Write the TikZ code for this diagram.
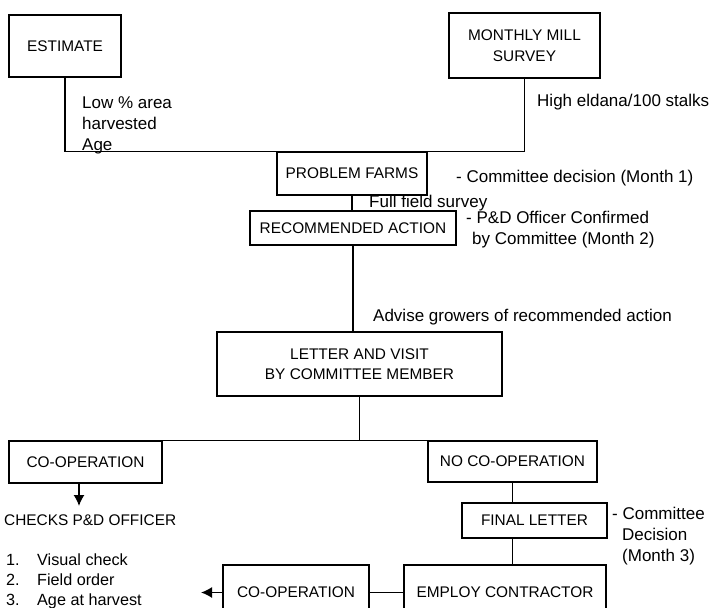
\documentclass[tikz,border=0pt]{standalone}
\usepackage{fontspec}
\setmainfont{Liberation Sans}
\usetikzlibrary{arrows.meta}
\begin{document}
\begin{tikzpicture}[x=1pt,y=-1pt,
  font=\fontsize{17}{20}\selectfont,
  box/.style={draw, line width=1.5pt, inner sep=2pt, align=center, font=\fontsize{15.4}{20.5}\selectfont},
  conn/.style={line width=1.5pt},
  tipconn/.style={line width=1.5pt, -{Latex[length=11pt,width=11pt]}},
  lbl/.style={inner sep=0pt, align=left}]
\useasboundingbox (0,0) rectangle (710,608);
\clip (0,0) rectangle (710,608);
% boxes
\node[box, minimum width=112pt, minimum height=62pt] (est) at (65,46) {ESTIMATE};
\node[box, minimum width=151pt, minimum height=65pt] (mms) at (524.5,45.5) {MONTHLY MILL\\SURVEY};
\node[box, minimum width=150pt, minimum height=43pt] (pf) at (352,173.5) {PROBLEM FARMS};
\node[box, minimum width=206pt, minimum height=34pt] (ra) at (353,228) {RECOMMENDED ACTION};
\node[box, minimum width=285pt, minimum height=64pt] (lv) at (359.5,364) {\raisebox{-3pt}{\parbox{250pt}{\centering LETTER AND VISIT\\BY COMMITTEE MEMBER}}};
\node[box, minimum width=153pt, minimum height=42pt] (coop) at (85.5,462) {CO-OPERATION};
\node[box, minimum width=169pt, minimum height=41pt] (nocoop) at (512.5,461.5) {NO CO-OPERATION};
\node[box, minimum width=145pt, minimum height=35pt] (fl) at (534.5,520.5) {FINAL LETTER};
\node[box, minimum width=202pt, minimum height=55pt] (emp) at (505,592.5) {EMPLOY CONTRACTOR};
\node[box, minimum width=146pt, minimum height=55pt] (coop2) at (296,592.5) {CO-OPERATION};
% coordinates
\coordinate (hl) at (est.south |- pf.north);
\coordinate (hr) at (mms.south |- pf.north);
\coordinate (chk) at (79,506);
\coordinate (co2tip) at (201,590);
% connectors
\draw[conn] (est.south) -- (hl) -- (hr) -- (mms.south);
\draw[conn] (pf.south) -- (pf.south |- ra.north);
\draw[conn] (ra.south) -- (ra.south |- lv.north);
\draw[conn] (coop.north east) -- (nocoop.north west);
\draw[conn] (lv.south) -- (lv.south |- coop.north);
\draw[tipconn] (chk |- coop.south) -- (chk);
\draw[conn] (nocoop.south) -- (nocoop.south |- fl.north);
\draw[conn] (nocoop.south |- fl.south) -- (nocoop.south |- emp.north);
\draw[conn] (coop2.east) -- (emp.west);
\draw[tipconn] (coop2.west) -- (co2tip |- coop2.west);
% labels
\node[lbl, anchor=north west, font=\fontsize{17}{21}\selectfont] (lowarea) at (82,97) {Low \% area\\harvested\\Age};
\node[lbl, anchor=base west] (eldana) at (537,106) {High eldana/100 stalks};
\node[lbl, anchor=base west] (cd1) at (456,182) {- Committee decision (Month 1)};
\node[lbl, anchor=base west] (ffs) at (369,207) {Full field survey};
\node[lbl, anchor=north west, font=\fontsize{17}{21}\selectfont] (pdo) at (466,211) {- P\&D Officer Confirmed\\\hspace*{6pt}by Committee (Month 2)};
\node[lbl, anchor=base west] (adv) at (373,321) {Advise growers of recommended action};
\node[lbl, anchor=north west, font=\fontsize{17}{21}\selectfont] (cd3) at (612,507) {- Committee\\\hspace*{10pt}Decision\\\hspace*{10pt}(Month 3)};
\node[lbl, anchor=base west, font=\fontsize{15.4}{20}\selectfont] (checks) at (4,525) {CHECKS P\&D OFFICER};
\node[lbl, anchor=base west, font=\fontsize{16.2}{20}\selectfont] (c1) at (6,565) {\makebox[31pt][l]{1.}Visual check};
\node[lbl, anchor=base west, font=\fontsize{16.2}{20}\selectfont] (c2) at (6,585) {\makebox[31pt][l]{2.}Field order};
\node[lbl, anchor=base west, font=\fontsize{16.2}{20}\selectfont] (c3) at (6,605) {\makebox[31pt][l]{3.}Age at harvest};
\end{tikzpicture}
\end{document}
